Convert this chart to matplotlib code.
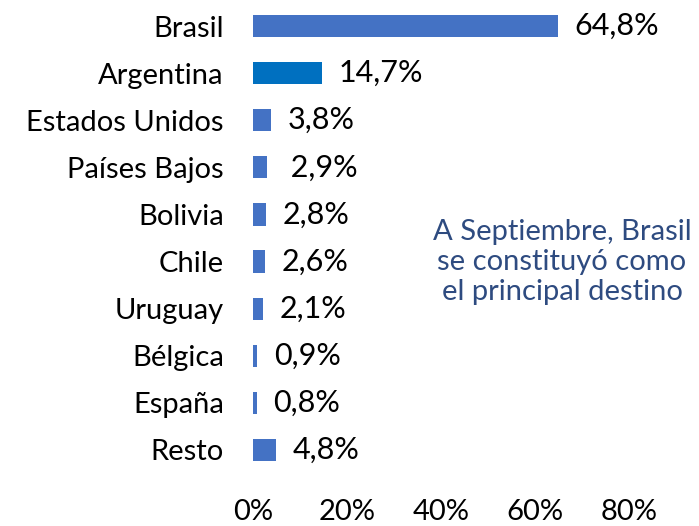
import numpy as np
import matplotlib
matplotlib.use("Agg")
import matplotlib.pyplot as plt

plt.rcParams['font.family'] = ['Lato', 'DejaVu Sans']

paises = ['Brasil', 'Argentina', 'Estados Unidos', 'Países Bajos', 'Bolivia',
          'Chile', 'Uruguay', 'Bélgica', 'España', 'Resto']
valores = [64.8, 14.7, 3.8, 2.9, 2.8, 2.6, 2.1, 0.9, 0.8, 4.8]
etiquetas = ['64,8%', '14,7%', '3,8%', ' 2,9%', '2,8%', '2,6%', '2,1%', '0,9%', '0,8%', '4,8%']
colores = ['#4472C4', '#0070C0'] + ['#4472C4'] * 8
ticks_x = [0, 20, 40, 60, 80]

W, H = 699, 526
fig = plt.figure(figsize=(W / 100, H / 100), dpi=100)
ax = fig.add_axes([253 / W, 1 - 473.5 / H, (629 - 253) / W, (473.5 - 2.5) / H])

y = np.arange(len(paises))
ax.barh(y, valores, height=0.47, color=colores)
ax.set_ylim(9.5, -0.5)
ax.set_xlim(0, 80)

for yi, v, t in zip(y, valores, etiquetas):
    ax.annotate(t, (v, yi), xytext=(12, 0), textcoords='offset points',
                va='center', ha='left', fontsize=22, color='black')

ax.set_yticks(y)
ax.set_yticklabels(paises, fontsize=21)
ax.set_xticks(ticks_x)
ax.set_xticklabels([f'{t}%' for t in ticks_x], fontsize=21)
ax.tick_params(axis='y', length=0, pad=21)
ax.tick_params(axis='x', length=0, pad=18)
for s in ax.spines.values():
    s.set_visible(False)

fig.text(562 / W, 1 - 262 / H,
         'A Septiembre, Brasil\nse constituyó como\nel principal destino',
         ha='center', va='center', fontsize=21, color='#2E4B80', linespacing=1.2)

fig.savefig('out.png', dpi=100)
